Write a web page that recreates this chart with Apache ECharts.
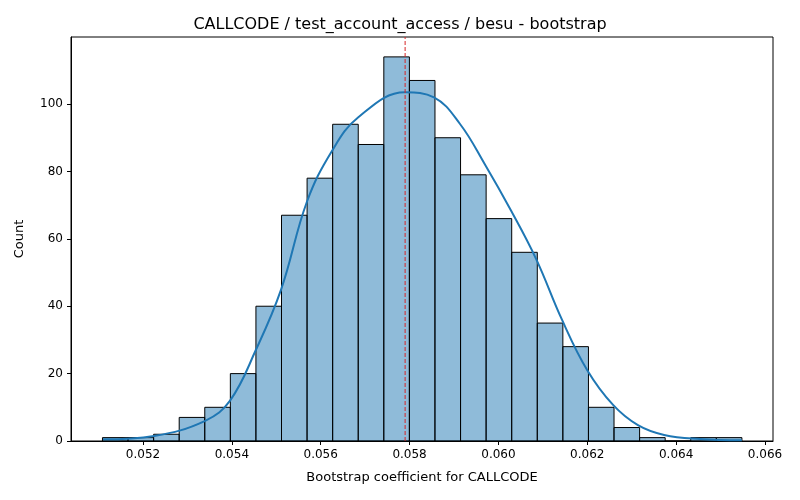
<!DOCTYPE html>
<html>
<head>
<meta charset="utf-8">
<script src="https://cdn.jsdelivr.net/npm/echarts@6/dist/echarts.min.js"></script>
<style>html,body{margin:0;padding:0;background:#fff}#main{width:800px;height:500px}</style>
</head>
<body>
<div id="main"></div>
<script>
// histogram bins (0.051088 .. 0.06548, 25 bins)
var binStart = 0.051088;
var binWidth = 0.0005757;
var binCounts = [1, 1, 2, 7, 10, 20, 40, 67, 78, 94, 88, 114, 107, 90, 79, 66, 56, 35, 28, 10, 4, 1, 0, 1, 1];
// kde curve
var kdeX = [0.0511, 0.05225, 0.0534, 0.05396, 0.05454, 0.05511, 0.05569, 0.05625, 0.05684, 0.0579, 0.05855, 0.05914, 0.0597, 0.06028, 0.06085, 0.06143, 0.062, 0.06258, 0.06314, 0.06373, 0.06454, 0.06548];
var kdeY = [0.5, 1.5, 6, 12, 27, 45, 71, 86, 96, 103.5, 102, 94, 82, 68.5, 54, 36, 21, 10.7, 4.7, 1.8, 0.6, 0.2];
var meanLine = 0.0579;
var xTicks = [0.052, 0.054, 0.056, 0.058, 0.060, 0.062, 0.064, 0.066];

var bins = binCounts.map(function (c, i) {
    return [binStart + i * binWidth, binStart + (i + 1) * binWidth, c];
});
var kde = kdeX.map(function (x, i) { return [x, kdeY[i]]; });

var oChart = echarts.init(document.getElementById('main'));
var sFont = 'DejaVu Sans';
oChart.setOption({
    animation: false,
    title: {
        text: 'CALLCODE / test_account_access / besu - bootstrap',
        left: 'center', top: 12,
        textStyle: {fontFamily: sFont, fontSize: 16, fontWeight: 'normal', color: '#000'}
    },
    grid: {left: 71, right: 27, top: 37, bottom: 59, show: true, borderColor: '#000', borderWidth: 1},
    xAxis: {
        type: 'value', min: 0.05038, max: 0.06618,
        name: 'Bootstrap coefficient for CALLCODE', nameLocation: 'middle', nameGap: 30,
        nameTextStyle: {fontFamily: sFont, fontSize: 13, color: '#000'},
        axisLine: {lineStyle: {color: '#000'}},
        axisTick: {customValues: xTicks, length: 4, lineStyle: {color: '#000'}},
        axisLabel: {customValues: xTicks, fontFamily: sFont, fontSize: 12, color: '#000', formatter: function (v) { return v.toFixed(3); }},
        splitLine: {show: false}
    },
    yAxis: {
        type: 'value', min: 0, max: 119.9, interval: 20,
        name: 'Count', nameLocation: 'middle', nameGap: 45,
        nameTextStyle: {fontFamily: sFont, fontSize: 13, color: '#000'},
        axisLine: {show: true, lineStyle: {color: '#000'}},
        axisTick: {show: true, length: 4, lineStyle: {color: '#000'}},
        axisLabel: {fontFamily: sFont, fontSize: 12, color: '#000', showMaxLabel: false},
        splitLine: {show: false}
    },
    series: [
        {
            type: 'custom',
            data: bins,
            encode: {x: [0, 1], y: 2},
            renderItem: function (params, api) {
                var p0 = api.coord([api.value(0), api.value(2)]);
                var p1 = api.coord([api.value(1), 0]);
                return {
                    type: 'rect',
                    shape: {x: p0[0], y: p0[1], width: p1[0] - p0[0], height: p1[1] - p0[1]},
                    style: {fill: 'rgba(31,119,180,0.5)', stroke: '#000', lineWidth: 1}
                };
            }
        },
        {
            type: 'line', data: kde, smooth: 0.4, symbol: 'none',
            lineStyle: {color: '#1f77b4', width: 2}
        },
        {
            type: 'line', data: [[meanLine, 0], [meanLine, 119.9]], symbol: 'none',
            lineStyle: {color: '#d62728', type: [4, 2], width: 1}
        }
    ]
});
</script>
</body>
</html>
